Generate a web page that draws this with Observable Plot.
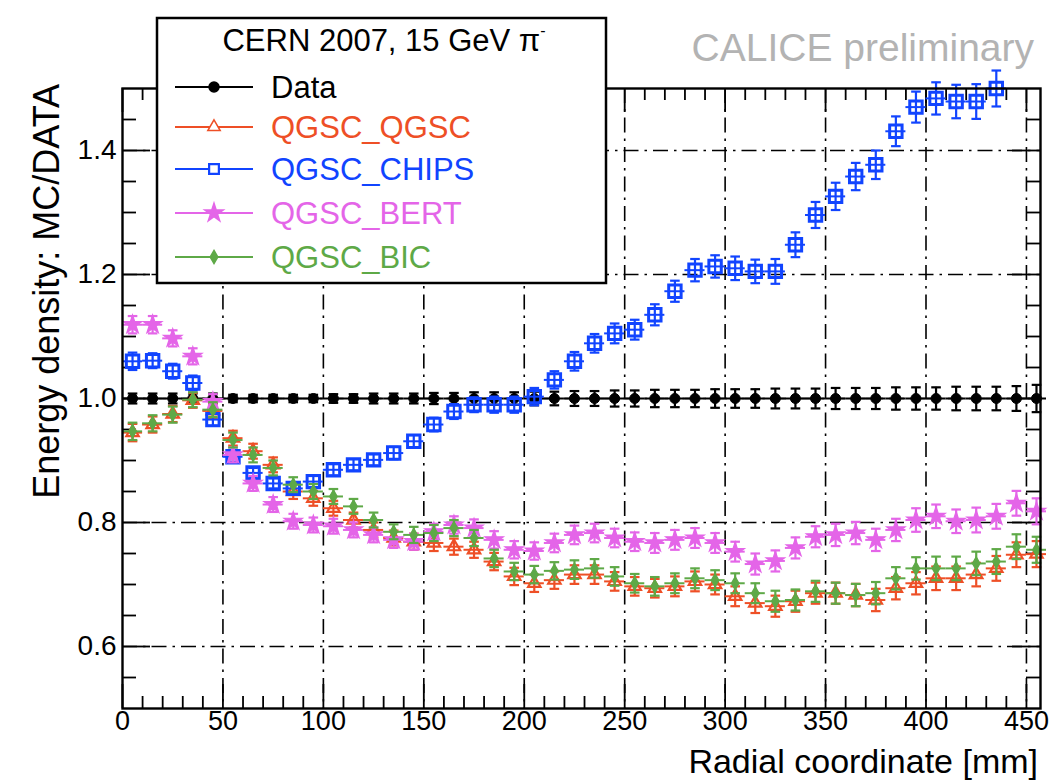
<!DOCTYPE html>
<html><head><meta charset="utf-8">
<script src="https://cdn.jsdelivr.net/npm/d3@7"></script>
<script src="https://cdn.jsdelivr.net/npm/@observablehq/plot@0.6"></script>
<style>
body{margin:0;background:#fff;}
#wrap{position:relative;width:1050px;height:780px;overflow:hidden;background:#fff;}
#overlay{position:absolute;left:0;top:0;pointer-events:none;}
</style></head><body><div id="wrap"></div>
<script>
// ---- data ----
const radius = [5,15,25,35,45,55,65,75,85,95,105,115,125,135,145,155,165,175,185,195,205,215,225,235,245,255,265,275,285,295,305,315,325,335,345,355,365,375,385,395,405,415,425,435,445,455];
const binHalfWidth = 5;

const dataVal = [1,1,1,1,1,1,1,1,1,1,1,1,1,1,1,1,1,1,1,1,1,1,1,1,1,1,1,1,1,1,1,1,1,1,1,1,1,1,1,1,1,1,1,1,1,1];
const dataErr = [0.008,0.008,0.008,0.008,0.008,0.006,0.006,0.006,0.006,0.006,0.007,0.007,0.008,0.008,0.008,0.009,0.009,0.010,0.010,0.010,0.011,0.011,0.012,0.012,0.013,0.013,0.014,0.014,0.014,0.015,0.015,0.015,0.016,0.016,0.016,0.017,0.017,0.017,0.018,0.018,0.018,0.019,0.019,0.019,0.020,0.022];

const qgscVal = [0.945,0.958,0.975,0.997,0.980,0.936,0.915,0.893,0.850,0.839,0.823,0.804,0.788,0.775,0.769,0.767,0.761,0.756,0.737,0.713,0.702,0.707,0.716,0.716,0.705,0.697,0.694,0.697,0.705,0.700,0.681,0.670,0.665,0.673,0.686,0.686,0.683,0.675,0.694,0.702,0.710,0.710,0.716,0.726,0.748,0.749];
const qgscErr = [0.014,0.013,0.013,0.012,0.012,0.012,0.012,0.012,0.012,0.012,0.012,0.012,0.012,0.012,0.013,0.013,0.013,0.013,0.014,0.014,0.014,0.014,0.015,0.015,0.015,0.015,0.015,0.016,0.016,0.016,0.016,0.016,0.017,0.017,0.017,0.017,0.018,0.018,0.018,0.018,0.019,0.019,0.019,0.020,0.020,0.021];

const chipsVal = [1.060,1.061,1.044,1.025,0.966,0.906,0.880,0.863,0.855,0.866,0.885,0.893,0.901,0.912,0.931,0.958,0.979,0.990,0.990,0.990,1.003,1.030,1.060,1.089,1.105,1.111,1.135,1.173,1.207,1.213,1.210,1.205,1.205,1.248,1.296,1.326,1.358,1.377,1.431,1.470,1.484,1.479,1.479,1.500];
const chipsErr = [0.014,0.012,0.012,0.012,0.010,0.008,0.008,0.008,0.009,0.009,0.009,0.009,0.009,0.010,0.010,0.011,0.012,0.012,0.013,0.013,0.014,0.014,0.015,0.015,0.016,0.016,0.017,0.017,0.018,0.018,0.019,0.019,0.020,0.020,0.021,0.022,0.022,0.023,0.024,0.025,0.026,0.027,0.028,0.029];

const bertVal = [1.119,1.119,1.097,1.068,0.995,0.909,0.863,0.829,0.802,0.796,0.794,0.788,0.780,0.772,0.769,0.785,0.796,0.791,0.772,0.756,0.754,0.767,0.780,0.783,0.775,0.769,0.767,0.772,0.775,0.767,0.753,0.733,0.738,0.759,0.777,0.780,0.783,0.772,0.788,0.804,0.810,0.802,0.804,0.810,0.831,0.818];
const bertErr = [0.014,0.014,0.013,0.013,0.012,0.012,0.012,0.012,0.012,0.012,0.012,0.012,0.012,0.013,0.013,0.013,0.014,0.014,0.014,0.014,0.014,0.015,0.015,0.015,0.015,0.015,0.016,0.016,0.016,0.016,0.016,0.017,0.017,0.017,0.017,0.018,0.018,0.018,0.018,0.019,0.019,0.019,0.020,0.020,0.020,0.021];

const bicVal = [0.947,0.960,0.974,0.998,0.982,0.933,0.909,0.888,0.861,0.850,0.842,0.826,0.804,0.785,0.780,0.783,0.791,0.775,0.742,0.721,0.716,0.722,0.724,0.726,0.713,0.702,0.697,0.702,0.710,0.707,0.702,0.686,0.673,0.675,0.689,0.686,0.683,0.686,0.710,0.726,0.726,0.726,0.734,0.737,0.761,0.756];
const bicErr = [0.014,0.013,0.013,0.012,0.012,0.012,0.012,0.012,0.012,0.012,0.012,0.012,0.012,0.012,0.013,0.013,0.013,0.013,0.014,0.014,0.014,0.014,0.015,0.015,0.015,0.015,0.015,0.016,0.016,0.016,0.016,0.016,0.017,0.017,0.017,0.017,0.018,0.018,0.018,0.018,0.019,0.019,0.019,0.020,0.020,0.021];

const xMajorTicks = [0,50,100,150,200,250,300,350,400,450];
const xGridTicks = [50,100,150,200,250,300,350,400,450];
const xMinorTicks = [10,20,30,40,60,70,80,90,110,120,130,140,160,170,180,190,210,220,230,240,260,270,280,290,310,320,330,340,360,370,380,390,410,420,430,440];
const yMajorTicks = [0.6,0.8,1.0,1.2,1.4];
const yMinorTicks = [0.55,0.65,0.7,0.75,0.85,0.9,0.95,1.05,1.1,1.15,1.25,1.3,1.35,1.45];

const legendTitle = "CERN 2007, 15 GeV π";
const xTitle = "Radial coordinate [mm]";
const yTitle = "Energy density: MC/DATA";
const watermark = "CALICE preliminary";

// ---- styles ----
const FONT = "'Liberation Sans', Arial, Helvetica, sans-serif";
const series = [
  {name:"Data",       values:dataVal,  errors:dataErr,  color:"#000000", symbol:"circle",   fill:true,  r:5,   sw:1},
  {name:"QGSC_QGSC",  values:qgscVal,  errors:qgscErr,  color:"#ee4f26", symbol:"triangle", fill:false, r:4.6, sw:2.2},
  {name:"QGSC_CHIPS", values:chipsVal, errors:chipsErr, color:"#1144ff", symbol:"square",   fill:false, r:7,   sw:3},
  {name:"QGSC_BERT",  values:bertVal,  errors:bertErr,  color:"#e465e8", symbol:"star",     fill:true,  r:5.8, sw:1.2},
  {name:"QGSC_BIC",   values:bicVal,   errors:bicErr,   color:"#5ea947", symbol:"diamond",  fill:true,  r:4,   sw:1.2}
];
const capSymbol = {draw(ctx, size){ const w = Math.sqrt(size/Math.PI); ctx.moveTo(-w,0); ctx.lineTo(w,0); }};

const W = 1050, H = 780, mL = 122, mR = 10, mT = 88, mB = 72;
const plotW = W - mL - mR, plotH = H - mT - mB;

const marks = [
  Plot.ruleX(xGridTicks, {x: d => d, stroke:"#000", strokeWidth:1.6, strokeDasharray:"15,6,2.5,6"}),
  Plot.ruleY(yMajorTicks, {y: d => d, stroke:"#000", strokeWidth:1.6, strokeDasharray:"15,6,2.5,6"}),
  // inward ticks
  Plot.tickX(xMinorTicks, {x: d => d, insetTop: plotH - 12, stroke:"#000", strokeWidth:1.8}),
  Plot.tickX(xMinorTicks, {x: d => d, insetBottom: plotH - 12, stroke:"#000", strokeWidth:1.8}),
  Plot.tickX(xMajorTicks, {x: d => d, insetTop: plotH - 24, stroke:"#000", strokeWidth:1.8}),
  Plot.tickX(xMajorTicks, {x: d => d, insetBottom: plotH - 24, stroke:"#000", strokeWidth:1.8}),
  Plot.tickY(yMinorTicks, {y: d => d, insetRight: plotW - 14, stroke:"#000", strokeWidth:1.8}),
  Plot.tickY(yMinorTicks, {y: d => d, insetLeft: plotW - 14, stroke:"#000", strokeWidth:1.8}),
  Plot.tickY(yMajorTicks, {y: d => d, insetRight: plotW - 28, stroke:"#000", strokeWidth:1.8}),
  Plot.tickY(yMajorTicks, {y: d => d, insetLeft: plotW - 28, stroke:"#000", strokeWidth:1.8}),
  Plot.axisX(xMajorTicks, {anchor:"bottom", tickSize:0, tickPadding:2, fontSize:27, label:null, tickFormat: d => String(d)}),
  Plot.axisY(yMajorTicks, {anchor:"left", tickSize:0, tickPadding:6, fontSize:28, label:null, tickFormat: d => d.toFixed(1)})
];

for (const s of series) {
  const rows = s.values.map((v, i) => ({x: radius[i], y: v, e: s.errors[i]}));
  marks.push(
    Plot.ruleY(rows, {y:"y", x1: d => d.x - binHalfWidth, x2: d => d.x + binHalfWidth, stroke:s.color, strokeWidth:2}),
    Plot.ruleX(rows, {x:"x", y1: d => d.y - d.e, y2: d => d.y + d.e, stroke:s.color, strokeWidth:2.2}),
    Plot.dot(rows, {x:"x", y: d => d.y - d.e, symbol: capSymbol, r:4.8, stroke:s.color, fill:"none", strokeWidth:2.2}),
    Plot.dot(rows, {x:"x", y: d => d.y + d.e, symbol: capSymbol, r:4.8, stroke:s.color, fill:"none", strokeWidth:2.2}),
    Plot.dot(rows, {x:"x", y:"y", symbol:s.symbol, r:s.r,
      fill: s.fill ? s.color : "none", stroke: s.color, strokeWidth: s.sw})
  );
}
marks.push(Plot.frame({stroke:"#000", strokeWidth:2.4}));

const chart = Plot.plot({
  width: W, height: H,
  marginLeft: mL, marginRight: mR, marginTop: mT, marginBottom: mB,
  x: {domain:[0,457], label:null},
  y: {domain:[0.5,1.5], label:null},
  style: {fontFamily: FONT, color:"#000", background:"#fff", overflow:"visible"},
  marks
});
const wrap = document.getElementById("wrap");
wrap.appendChild(chart);

// ---- overlay: legend, titles, watermark ----
const ov = d3.select(wrap).append("svg").attr("id","overlay")
  .attr("width", W).attr("height", H).style("font-family", FONT);

ov.append("text").attr("x", 1034).attr("y", 61).attr("text-anchor","end")
  .attr("font-size", 39).attr("fill","#b3b3b3").text(watermark);

ov.append("text").attr("x", 1038).attr("y", 773).attr("text-anchor","end")
  .attr("font-size", 34).attr("fill","#000").text(xTitle);

ov.append("text").attr("transform","translate(46,84) rotate(-90)").attr("text-anchor","end")
  .attr("dominant-baseline","central").attr("font-size", 36).attr("fill","#000").text(yTitle);

const lg = ov.append("g");
lg.append("rect").attr("x",157).attr("y",18).attr("width",449).attr("height",265)
  .attr("fill","#fff").attr("stroke","#000").attr("stroke-width",2.5);
const tt = lg.append("text").attr("x",384).attr("y",40).attr("text-anchor","middle")
  .attr("dominant-baseline","central").attr("font-size",31).attr("fill","#000");
tt.append("tspan").text(legendTitle);
tt.append("tspan").attr("font-size",16).attr("dy",-10).text("-");

const legendY = [87, 127, 169, 213, 257];
const symMap = {circle:d3.symbolCircle, triangle:d3.symbolTriangle, square:d3.symbolSquare, star:d3.symbolStar, diamond:d3.symbolDiamond};
series.forEach((s, i) => {
  const y = legendY[i];
  lg.append("line").attr("x1",175).attr("x2",253).attr("y1",y).attr("y2",y)
    .attr("stroke",s.color).attr("stroke-width",2);
  const rr = i === 2 ? 5.5 : s.r;
  lg.append("path").attr("transform",`translate(214,${y})`)
    .attr("d", d3.symbol(symMap[s.symbol], Math.PI*rr*rr)())
    .attr("fill", s.fill ? s.color : "#fff").attr("stroke", s.color).attr("stroke-width", i===2?2.2:1.5);
  lg.append("text").attr("x",271).attr("y",y).attr("dominant-baseline","central")
    .attr("font-size",31).attr("fill", s.color).text(s.name);
});
</script></body></html>
